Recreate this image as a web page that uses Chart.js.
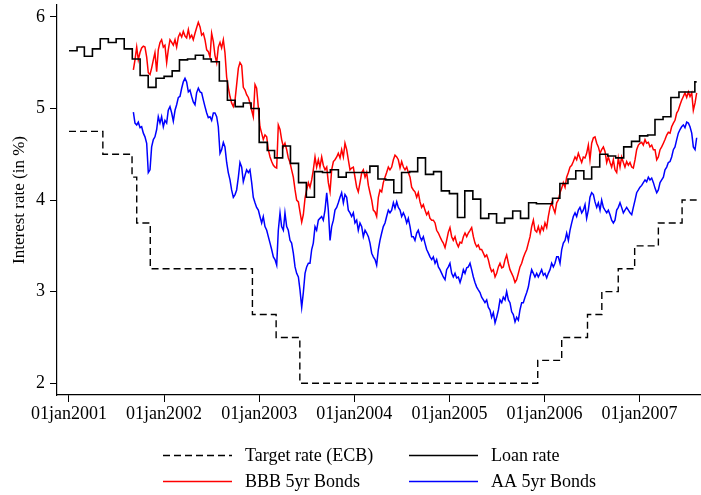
<!DOCTYPE html>
<html>
<head>
<meta charset="utf-8">
<script src="https://cdn.jsdelivr.net/npm/chart.js@4.4.0/dist/chart.umd.min.js"></script>
<style>
  html, body { margin: 0; padding: 0; background: #fff; }
  canvas { display: block; }
</style>
</head>
<body>
<canvas id="rates" width="701" height="495" style="width:701px;height:495px"></canvas>
<script>
// ECB main refinancing (target) rate: change dates and new levels
const ecbDates = ['2001-01-01', '2001-05-11', '2001-08-31', '2001-09-18', '2001-11-09', '2002-12-06',
  '2003-03-07', '2003-06-06', '2005-12-06', '2006-03-08', '2006-06-15', '2006-08-09', '2006-10-11',
  '2006-12-13', '2007-03-14', '2007-06-13'];
const ecbRates = [4.75, 4.50, 4.25, 3.75, 3.25, 2.75, 2.50, 2.00, 2.25, 2.50, 2.75, 3.00, 3.25, 3.50, 3.75, 4.00];

// Monthly loan rate
const loanMonths = [
  '2001-01', '2001-02', '2001-03', '2001-04', '2001-05', '2001-06', '2001-07', '2001-08', '2001-09', '2001-10', '2001-11', '2001-12',
  '2002-01', '2002-02', '2002-03', '2002-04', '2002-05', '2002-06', '2002-07', '2002-08', '2002-09', '2002-10', '2002-11', '2002-12',
  '2003-01', '2003-02', '2003-03', '2003-04', '2003-05', '2003-06', '2003-07', '2003-08', '2003-09', '2003-10', '2003-11', '2003-12',
  '2004-01', '2004-02', '2004-03', '2004-04', '2004-05', '2004-06', '2004-07', '2004-08', '2004-09', '2004-10', '2004-11', '2004-12',
  '2005-01', '2005-02', '2005-03', '2005-04', '2005-05', '2005-06', '2005-07', '2005-08', '2005-09', '2005-10', '2005-11', '2005-12',
  '2006-01', '2006-02', '2006-03', '2006-04', '2006-05', '2006-06', '2006-07', '2006-08', '2006-09', '2006-10', '2006-11', '2006-12',
  '2007-01', '2007-02', '2007-03', '2007-04', '2007-05', '2007-06', '2007-07', '2007-08'];
const loanRates = [
  5.63, 5.67, 5.57, 5.65, 5.76, 5.72, 5.76, 5.65, 5.54, 5.36, 5.23, 5.33,
  5.35, 5.41, 5.53, 5.54, 5.58, 5.54, 5.51, 5.30, 5.09, 5.02, 5.06, 5.00,
  4.63, 4.54, 4.46, 4.59, 4.40, 4.19, 4.03, 4.31, 4.30, 4.33, 4.25, 4.30,
  4.30, 4.30, 4.37, 4.23, 4.22, 4.08, 4.30, 4.31, 4.46, 4.28, 4.31, 4.10,
  4.07, 3.81, 4.10, 4.01, 3.80, 3.85, 3.75, 3.80, 3.88, 3.80, 3.97, 3.96,
  3.96, 4.02, 4.18, 4.23, 4.32, 4.23, 4.36, 4.50, 4.48, 4.46, 4.58, 4.64,
  4.70, 4.71, 4.88, 4.91, 5.12, 5.18, 5.18, 5.29];

// Last observation in the sample
const lastObs = '2007-08-08';

// Bond yields (decimal-year dates)
const bondDates = [
  2001.677, 2001.694, 2001.712, 2001.729, 2001.747, 2001.764, 2001.782, 2001.799, 2001.817, 2001.834,
  2001.852, 2001.869, 2001.887, 2001.904, 2001.922, 2001.939, 2001.957, 2001.974, 2001.992, 2002.009,
  2002.027, 2002.044, 2002.062, 2002.080, 2002.097, 2002.115, 2002.132, 2002.150, 2002.167, 2002.185,
  2002.202, 2002.220, 2002.237, 2002.255, 2002.272, 2002.290, 2002.307, 2002.325, 2002.342, 2002.360,
  2002.378, 2002.395, 2002.413, 2002.430, 2002.448, 2002.465, 2002.483, 2002.500, 2002.518, 2002.535,
  2002.553, 2002.570, 2002.588, 2002.605, 2002.623, 2002.640, 2002.658, 2002.675, 2002.693, 2002.710,
  2002.728, 2002.746, 2002.763, 2002.781, 2002.798, 2002.816, 2002.833, 2002.851, 2002.868, 2002.886,
  2002.903, 2002.921, 2002.938, 2002.956, 2002.973, 2002.991, 2003.008, 2003.026, 2003.043, 2003.061,
  2003.079, 2003.096, 2003.114, 2003.131, 2003.149, 2003.166, 2003.184, 2003.201, 2003.219, 2003.236,
  2003.254, 2003.271, 2003.289, 2003.306, 2003.324, 2003.341, 2003.359, 2003.377, 2003.394, 2003.412,
  2003.429, 2003.447, 2003.464, 2003.482, 2003.499, 2003.517, 2003.534, 2003.552, 2003.569, 2003.587,
  2003.604, 2003.622, 2003.639, 2003.657, 2003.674, 2003.692, 2003.710, 2003.727, 2003.745, 2003.762,
  2003.780, 2003.797, 2003.815, 2003.832, 2003.850, 2003.867, 2003.885, 2003.902, 2003.920, 2003.937,
  2003.955, 2003.972, 2003.990, 2004.007, 2004.025, 2004.042, 2004.060, 2004.078, 2004.095, 2004.113,
  2004.130, 2004.148, 2004.165, 2004.183, 2004.200, 2004.218, 2004.235, 2004.253, 2004.270, 2004.288,
  2004.305, 2004.323, 2004.340, 2004.358, 2004.375, 2004.393, 2004.411, 2004.428, 2004.446, 2004.463,
  2004.481, 2004.498, 2004.516, 2004.533, 2004.551, 2004.568, 2004.586, 2004.603, 2004.621, 2004.638,
  2004.656, 2004.673, 2004.691, 2004.708, 2004.726, 2004.743, 2004.761, 2004.779, 2004.796, 2004.814,
  2004.831, 2004.849, 2004.866, 2004.884, 2004.901, 2004.919, 2004.936, 2004.954, 2004.971, 2004.989,
  2005.006, 2005.024, 2005.041, 2005.059, 2005.076, 2005.094, 2005.112, 2005.129, 2005.147, 2005.164,
  2005.182, 2005.199, 2005.217, 2005.234, 2005.252, 2005.269, 2005.287, 2005.304, 2005.322, 2005.339,
  2005.357, 2005.374, 2005.392, 2005.409, 2005.427, 2005.444, 2005.462, 2005.480, 2005.497, 2005.515,
  2005.532, 2005.550, 2005.567, 2005.585, 2005.602, 2005.620, 2005.637, 2005.655, 2005.672, 2005.690,
  2005.707, 2005.725, 2005.742, 2005.760, 2005.777, 2005.795, 2005.813, 2005.830, 2005.848, 2005.865,
  2005.883, 2005.900, 2005.918, 2005.935, 2005.953, 2005.970, 2005.988, 2006.005, 2006.023, 2006.040,
  2006.058, 2006.075, 2006.093, 2006.110, 2006.128, 2006.145, 2006.163, 2006.181, 2006.198, 2006.216,
  2006.233, 2006.251, 2006.268, 2006.286, 2006.303, 2006.321, 2006.338, 2006.356, 2006.373, 2006.391,
  2006.408, 2006.426, 2006.443, 2006.461, 2006.478, 2006.496, 2006.514, 2006.531, 2006.549, 2006.566,
  2006.584, 2006.601, 2006.619, 2006.636, 2006.654, 2006.671, 2006.689, 2006.706, 2006.724, 2006.741,
  2006.759, 2006.776, 2006.794, 2006.811, 2006.829, 2006.846, 2006.864, 2006.882, 2006.899, 2006.917,
  2006.934, 2006.952, 2006.969, 2006.987, 2007.004, 2007.022, 2007.039, 2007.057, 2007.074, 2007.092,
  2007.109, 2007.127, 2007.145, 2007.162, 2007.180, 2007.197, 2007.215, 2007.232, 2007.250, 2007.267,
  2007.285, 2007.302, 2007.320, 2007.337, 2007.355, 2007.372, 2007.390, 2007.407, 2007.425, 2007.442,
  2007.460, 2007.477, 2007.495, 2007.513, 2007.530, 2007.548, 2007.565, 2007.583, 2007.600];

const bbbRates = [
  5.42, 5.53, 5.67, 5.53, 5.61, 5.66, 5.68, 5.67, 5.56, 5.39,
  5.37, 5.44, 5.53, 5.61, 5.40, 5.64, 5.72, 5.75, 5.67, 5.69,
  5.50, 5.64, 5.75, 5.72, 5.69, 5.75, 5.67, 5.78, 5.82, 5.78,
  5.84, 5.79, 5.77, 5.86, 5.77, 5.80, 5.75, 5.82, 5.88, 5.94,
  5.89, 5.80, 5.82, 5.75, 5.64, 5.62, 5.56, 5.82, 5.73, 5.58,
  5.50, 5.67, 5.72, 5.66, 5.75, 5.61, 5.34, 5.23, 5.13, 5.06,
  5.02, 5.09, 5.26, 5.44, 5.50, 5.47, 5.23, 5.20, 5.15, 5.12,
  5.06, 4.98, 4.91, 5.26, 5.22, 5.01, 4.80, 4.73, 4.66, 4.71,
  4.69, 4.55, 4.47, 4.42, 4.38, 4.36, 4.35, 4.82, 4.77, 4.66,
  4.58, 4.62, 4.55, 4.46, 4.41, 4.33, 4.25, 4.11, 4.00, 3.98,
  3.87, 3.76, 3.84, 4.02, 4.11, 4.19, 4.14, 4.22, 4.33, 4.47,
  4.36, 4.44, 4.36, 4.47, 4.38, 4.33, 4.36, 4.19, 4.09, 4.33,
  4.42, 4.44, 4.47, 4.51, 4.46, 4.55, 4.47, 4.62, 4.55, 4.44,
  4.33, 4.35, 4.36, 4.25, 4.14, 4.09, 4.19, 4.30, 4.33, 4.25,
  4.30, 4.16, 4.08, 4.00, 3.89, 3.87, 3.82, 4.03, 4.11, 4.09,
  4.19, 4.25, 4.30, 4.36, 4.33, 4.36, 4.44, 4.49, 4.47, 4.44,
  4.35, 4.42, 4.36, 4.33, 4.36, 4.30, 4.25, 4.14, 4.11, 4.09,
  4.03, 4.08, 3.98, 3.92, 3.95, 3.89, 3.84, 3.87, 3.80, 3.78,
  3.78, 3.75, 3.67, 3.64, 3.60, 3.56, 3.53, 3.48, 3.56, 3.65,
  3.70, 3.60, 3.56, 3.60, 3.53, 3.49, 3.54, 3.53, 3.60, 3.64,
  3.60, 3.64, 3.67, 3.70, 3.60, 3.53, 3.49, 3.51, 3.46, 3.46,
  3.42, 3.38, 3.40, 3.35, 3.27, 3.22, 3.24, 3.16, 3.20, 3.27,
  3.31, 3.26, 3.27, 3.35, 3.40, 3.31, 3.24, 3.20, 3.16, 3.10,
  3.13, 3.20, 3.27, 3.31, 3.37, 3.42, 3.46, 3.53, 3.60, 3.71,
  3.78, 3.67, 3.65, 3.71, 3.64, 3.71, 3.67, 3.75, 3.70, 3.82,
  3.92, 3.97, 3.91, 3.86, 3.97, 4.00, 4.08, 4.13, 4.19, 4.14,
  4.25, 4.30, 4.36, 4.38, 4.42, 4.47, 4.44, 4.51, 4.46, 4.41,
  4.47, 4.46, 4.51, 4.60, 4.44, 4.62, 4.68, 4.69, 4.62, 4.58,
  4.51, 4.55, 4.58, 4.53, 4.41, 4.47, 4.41, 4.36, 4.44, 4.33,
  4.30, 4.46, 4.36, 4.47, 4.41, 4.36, 4.42, 4.38, 4.41, 4.36,
  4.35, 4.44, 4.55, 4.60, 4.62, 4.63, 4.60, 4.66, 4.62, 4.63,
  4.58, 4.60, 4.55, 4.55, 4.44, 4.47, 4.55, 4.58, 4.62, 4.66,
  4.71, 4.74, 4.73, 4.80, 4.84, 4.87, 4.95, 4.98, 5.04, 5.09,
  5.13, 5.17, 5.12, 5.18, 5.13, 5.17, 4.98, 5.06, 5.17];

const aaRates = [
  4.96, 4.84, 4.82, 4.85, 4.79, 4.80, 4.73, 4.69, 4.62, 4.30,
  4.33, 4.58, 4.66, 4.69, 4.77, 4.91, 4.84, 4.91, 4.80, 4.87,
  4.84, 4.98, 5.02, 4.95, 4.86, 4.98, 5.04, 5.12, 5.13, 5.22,
  5.29, 5.33, 5.29, 5.18, 5.20, 5.13, 5.07, 5.04, 5.17, 5.22,
  5.18, 5.17, 5.09, 5.02, 4.95, 4.90, 4.91, 4.87, 4.95, 4.95,
  4.91, 4.80, 4.51, 4.55, 4.63, 4.58, 4.41, 4.30, 4.22, 4.11,
  4.03, 4.06, 4.11, 4.25, 4.41, 4.36, 4.20, 4.27, 4.33, 4.30,
  4.33, 4.19, 4.03, 3.97, 3.92, 3.89, 3.82, 3.75, 3.82, 3.71,
  3.67, 3.60, 3.53, 3.46, 3.38, 3.35, 3.29, 3.67, 3.86, 3.71,
  3.67, 3.86, 3.71, 3.67, 3.56, 3.53, 3.42, 3.27, 3.20, 3.16,
  3.02, 2.83, 2.99, 3.20, 3.27, 3.31, 3.31, 3.46, 3.53, 3.71,
  3.67, 3.78, 3.80, 3.82, 3.78, 3.89, 4.08, 3.89, 3.56, 3.71,
  3.78, 3.89, 3.92, 3.97, 4.03, 4.08, 3.97, 4.06, 4.03, 3.89,
  3.86, 3.82, 3.86, 3.75, 3.78, 3.67, 3.75, 3.71, 3.60, 3.67,
  3.64, 3.60, 3.53, 3.42, 3.38, 3.35, 3.29, 3.46, 3.56, 3.64,
  3.71, 3.75, 3.82, 3.89, 3.86, 3.89, 3.97, 3.91, 3.98, 3.92,
  3.89, 3.82, 3.86, 3.82, 3.75, 3.80, 3.71, 3.60, 3.60, 3.56,
  3.64, 3.67, 3.60, 3.56, 3.60, 3.53, 3.46, 3.42, 3.38, 3.35,
  3.38, 3.31, 3.35, 3.27, 3.24, 3.20, 3.16, 3.13, 3.24, 3.27,
  3.31, 3.20, 3.16, 3.20, 3.15, 3.16, 3.10, 3.16, 3.24, 3.20,
  3.26, 3.27, 3.31, 3.24, 3.16, 3.10, 3.05, 3.02, 2.99, 2.94,
  2.91, 2.88, 2.91, 2.83, 2.80, 2.72, 2.77, 2.66, 2.72, 2.80,
  2.91, 2.88, 2.94, 2.91, 3.00, 2.91, 2.88, 2.78, 2.75, 2.67,
  2.72, 2.69, 2.80, 2.88, 2.88, 2.94, 2.99, 3.05, 3.16, 3.24,
  3.20, 3.16, 3.20, 3.16, 3.20, 3.24, 3.18, 3.20, 3.15, 3.20,
  3.24, 3.31, 3.27, 3.31, 3.38, 3.38, 3.31, 3.46, 3.53, 3.56,
  3.64, 3.56, 3.67, 3.75, 3.82, 3.86, 3.82, 3.89, 3.92, 3.86,
  3.89, 3.95, 3.80, 3.89, 4.03, 4.08, 4.06, 3.98, 3.92, 3.97,
  3.89, 4.00, 3.92, 3.89, 3.86, 3.89, 3.84, 3.78, 3.75, 3.78,
  3.89, 3.92, 3.97, 3.92, 3.86, 3.89, 3.92, 3.89, 3.86, 3.84,
  3.92, 4.00, 4.08, 4.11, 4.14, 4.16, 4.19, 4.22, 4.20, 4.25,
  4.22, 4.24, 4.19, 4.13, 4.08, 4.11, 4.19, 4.22, 4.25, 4.33,
  4.36, 4.41, 4.42, 4.47, 4.55, 4.58, 4.66, 4.73, 4.77, 4.80,
  4.82, 4.79, 4.85, 4.84, 4.80, 4.73, 4.58, 4.55, 4.68];

// Axis ticks
const yearTicks = [2001, 2002, 2003, 2004, 2005, 2006, 2007];
const rateTicks = [2, 3, 4, 5, 6];

// Calendar date string ('YYYY-MM' or 'YYYY-MM-DD') -> decimal year
function toYear(s) {
  const [y, m, d] = s.split('-').map(Number);
  const t0 = Date.UTC(y, 0, 1), t1 = Date.UTC(y + 1, 0, 1);
  return y + (Date.UTC(y, m - 1, d || 1) - t0) / (t1 - t0);
}

// Step series hold their level until the next change, so close them at the last observation
const ecbPoints = ecbDates.map((d, i) => ({ x: toYear(d), y: ecbRates[i] }));
ecbPoints.push({ x: toYear(lastObs), y: ecbRates[ecbRates.length - 1] });
const loanPoints = loanMonths.map((d, i) => ({ x: toYear(d), y: loanRates[i] }));
loanPoints.push({ x: toYear(lastObs), y: loanRates[loanRates.length - 1] });
const bbbPoints = bondDates.map((x, i) => ({ x, y: bbbRates[i] }));
const aaPoints = bondDates.map((x, i) => ({ x, y: aaRates[i] }));

const SERIF = '"Liberation Serif", "Times New Roman", serif';

// Two-column legend below the plot
const legendGrid = {
  id: 'legendGrid',
  afterDraw(chart) {
    const c = chart.ctx;
    const cols = [163, 409];
    const rows = [455, 481];
    chart.data.datasets.forEach((ds, i) => {
      const x = cols[i % 2], y = rows[Math.floor(i / 2)];
      c.save();
      c.strokeStyle = ds.borderColor;
      c.lineWidth = ds.borderWidth;
      c.setLineDash(ds.borderDash || []);
      c.beginPath();
      c.moveTo(x, y + 0.5);
      c.lineTo(x + 69, y + 0.5);
      c.stroke();
      c.setLineDash([]);
      c.fillStyle = '#000';
      c.font = '18px ' + SERIF;
      c.textBaseline = 'middle';
      c.fillText(ds.label, x + 82, y + 1);
      c.restore();
    });
  }
};

// Tick labels may overhang the plot edges; keep the plot box fixed
function noEdgePadding(s) {
  s.paddingTop = 0;
  s.paddingBottom = 0;
  s.paddingLeft = 0;
  s.paddingRight = 0;
}

new Chart(document.getElementById('rates'), {
  type: 'line',
  data: {
    datasets: [
      { label: 'Target rate (ECB)', data: ecbPoints, borderColor: '#000000', borderWidth: 1.4,
        borderDash: [7, 4], stepped: true, pointRadius: 0 },
      { label: 'Loan rate', data: loanPoints, borderColor: '#000000', borderWidth: 1.6,
        stepped: true, pointRadius: 0 },
      { label: 'BBB 5yr Bonds', data: bbbPoints, borderColor: '#ff0000', borderWidth: 1.5,
        pointRadius: 0, tension: 0 },
      { label: 'AA 5yr Bonds', data: aaPoints, borderColor: '#0000ff', borderWidth: 1.5,
        pointRadius: 0, tension: 0 }
    ]
  },
  options: {
    responsive: false,
    animation: false,
    devicePixelRatio: 1,
    layout: { padding: { left: 0, right: 1, top: 5, bottom: 70 } },
    plugins: { legend: { display: false }, tooltip: { enabled: false } },
    scales: {
      x: {
        type: 'linear',
        min: 2000.874,
        max: 2007.635,
        afterBuildTicks: s => { s.ticks = yearTicks.map(v => ({ value: v })); },
        afterFit: s => { s.height = 30; noEdgePadding(s); },
        ticks: {
          callback: v => '01jan' + v,
          font: { family: SERIF, size: 18 },
          color: '#000',
          padding: 1,
          maxRotation: 0,
          autoSkip: false
        },
        grid: { drawOnChartArea: false, drawTicks: true, tickLength: 7, color: '#000', lineWidth: 1 },
        border: { display: true, color: '#000', width: 1.2 }
      },
      y: {
        type: 'linear',
        min: 1.872,
        max: 6.129,
        afterBuildTicks: s => { s.ticks = rateTicks.map(v => ({ value: v })); },
        afterFit: s => { s.width = 57; noEdgePadding(s); },
        ticks: {
          font: { family: SERIF, size: 18 },
          color: '#000',
          padding: 5
        },
        title: {
          display: true,
          text: 'Interest rate (in %)',
          font: { family: SERIF, size: 17 },
          color: '#000',
          padding: { top: 9, bottom: 0 }
        },
        grid: { drawOnChartArea: false, drawTicks: true, tickLength: 7, color: '#000', lineWidth: 1 },
        border: { display: true, color: '#000', width: 1.2 }
      }
    }
  },
  plugins: [legendGrid]
});
</script>
</body>
</html>
